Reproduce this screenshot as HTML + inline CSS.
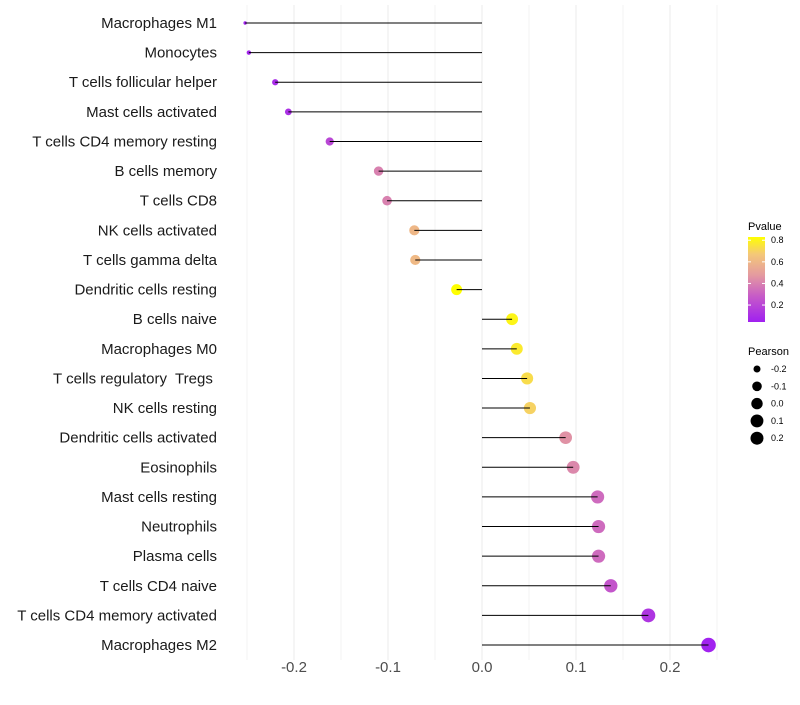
<!DOCTYPE html>
<html><head><meta charset="utf-8"><style>
body{margin:0;background:#fff;font-family:"Liberation Sans",sans-serif}
text{white-space:pre}
</style></head><body>
<svg id="chart" width="800" height="700" xmlns="http://www.w3.org/2000/svg">
<defs><linearGradient id="pg" x1="0" y1="1" x2="0" y2="0">
<stop offset="0" stop-color="#a020f0"/><stop offset="0.3" stop-color="#c65ac8"/><stop offset="0.55" stop-color="#e49aa0"/><stop offset="0.8" stop-color="#f4c878"/><stop offset="1" stop-color="#ffff00"/></linearGradient></defs>
<g id="grid"></g><g id="marks"></g><g id="ylabels"></g><g id="xlabels"></g><g id="legend"></g>
</svg>
<script>
const categories=["Macrophages M1","Monocytes","T cells follicular helper","Mast cells activated","T cells CD4 memory resting","B cells memory","T cells CD8","NK cells activated","T cells gamma delta","Dendritic cells resting","B cells naive","Macrophages M0","T cells regulatory  Tregs ","NK cells resting","Dendritic cells activated","Eosinophils","Mast cells resting","Neutrophils","Plasma cells","T cells CD4 naive","T cells CD4 memory activated","Macrophages M2"];
const pearson=[-0.252,-0.248,-0.220,-0.206,-0.162,-0.110,-0.101,-0.072,-0.071,-0.027,0.032,0.037,0.048,0.051,0.089,0.097,0.123,0.124,0.124,0.137,0.177,0.241];
const pvalue=[0.05,0.06,0.09,0.11,0.2,0.4,0.4,0.6,0.61,0.83,0.8,0.77,0.73,0.7,0.45,0.42,0.33,0.33,0.33,0.26,0.13,0.05];
const xTicks=[-0.2,-0.1,0.0,0.1,0.2];
const pTicks=[0.2,0.4,0.6,0.8];
const sizeTicks=[-0.2,-0.1,0.0,0.1,0.2];
const NS="http://www.w3.org/2000/svg";
const x=v=>482+v*940;
const y=i=>23+i*29.62;
const r=v=>1.7+5.6*Math.sqrt(Math.max(0,Math.min(1,(v+0.252)/0.493)));
const stops=[[0,[160,32,240]],[0.3,[198,90,200]],[0.55,[228,154,160]],[0.8,[244,200,120]],[1,[255,255,0]]];
function col(p){let t=(p-0.043)/(0.83-0.043);t=Math.max(0,Math.min(1,t));
for(let k=1;k<stops.length;k++){if(t<=stops[k][0]){const a=stops[k-1],b=stops[k],f=(t-a[0])/(b[0]-a[0]);
return 'rgb('+a[1].map((c,j)=>Math.round(c+(b[1][j]-c)*f)).join(',')+')';}}return 'rgb(255,255,0)';}
function el(tag,attrs,parent){const e=document.createElementNS(NS,tag);for(const k in attrs)e.setAttribute(k,attrs[k]);parent.appendChild(e);return e;}
const grid=document.getElementById('grid'),marks=document.getElementById('marks'),yl=document.getElementById('ylabels'),xl=document.getElementById('xlabels'),lg=document.getElementById('legend');
for(let v=-0.25;v<=0.26;v+=0.05){const g=el('line',{x1:x(v),x2:x(v),y1:5,y2:660,stroke:'#ebebeb','stroke-width':Math.abs(Math.round(v*100))%10===0?1:0.6},grid);

}
categories.forEach((c,i)=>{
const pt=el('circle',{cx:x(pearson[i]),cy:y(i),r:r(pearson[i]),fill:col(pvalue[i])},marks);


const ln=el('line',{x1:x(0),x2:x(pearson[i]),y1:y(i),y2:y(i),stroke:'#000','stroke-width':1},marks);


const t=el('text',{x:217,y:y(i)+5,'text-anchor':'end','font-size':15,fill:'#1a1a1a'},yl);t.textContent=c;

});
xTicks.forEach(v=>{const t=el('text',{x:x(v),y:672,'text-anchor':'middle','font-size':15,fill:'#4d4d4d'},xl);t.textContent=v.toFixed(1);

});
const pt=el('text',{x:748,y:230,'font-size':11,fill:'#000'},lg);pt.textContent='Pvalue';


const bar=el('rect',{x:748,y:237,width:17,height:85,fill:'url(#pg)'},lg);


const py=p=>322-(p-0.043)/(0.83-0.043)*85;
pTicks.forEach(p=>{el('line',{x1:748,x2:751,y1:py(p),y2:py(p),stroke:'#fff'},lg);el('line',{x1:762,x2:765,y1:py(p),y2:py(p),stroke:'#fff'},lg);
const t=el('text',{x:771,y:py(p)+3,'font-size':9,fill:'#000'},lg);t.textContent=p.toFixed(1);

});
const st=el('text',{x:748,y:355,'font-size':11,fill:'#000'},lg);st.textContent='Pearson';


sizeTicks.forEach((v,k)=>{const cy=369+k*17.3;
const c=el('circle',{cx:757,cy:cy,r:Math.min(r(v),6.5),fill:'#000'},lg);


const t=el('text',{x:771,y:cy+3,'font-size':9,fill:'#000'},lg);t.textContent=v.toFixed(1);

});
</script>
</body></html>
